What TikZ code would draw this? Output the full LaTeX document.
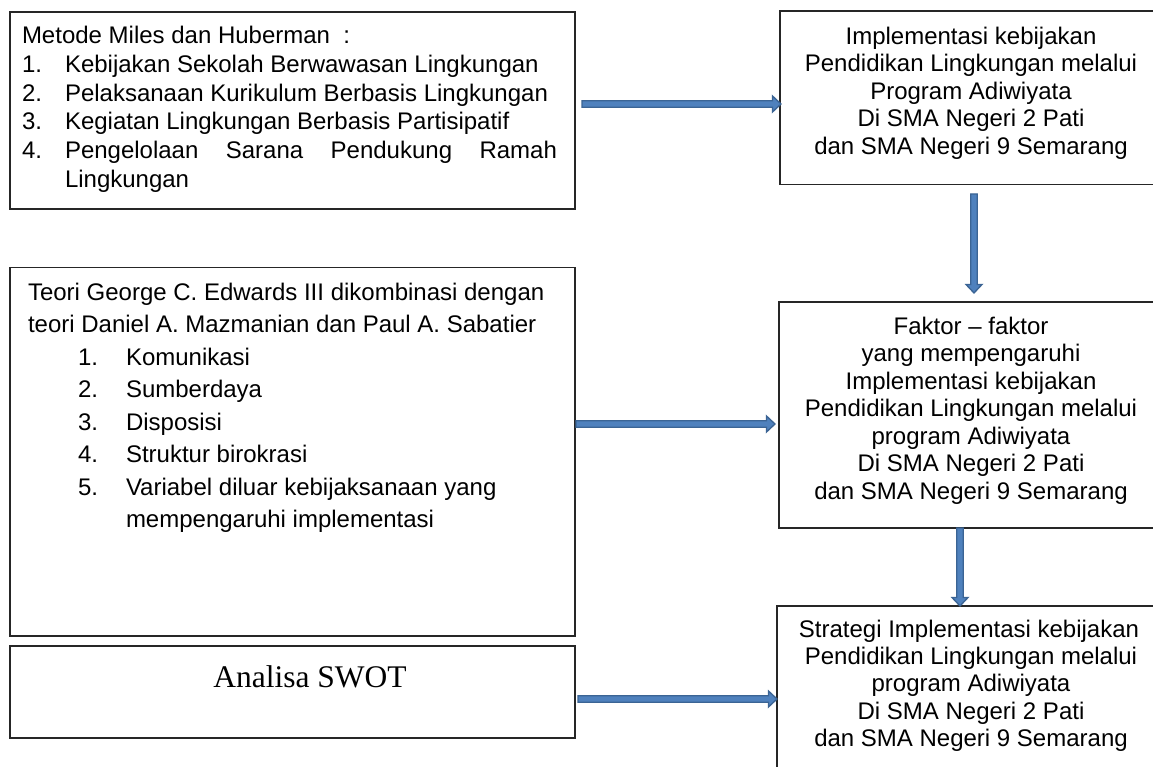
\documentclass[tikz,border=0pt]{standalone}
\usepackage{fontspec}
\setmainfont{Liberation Sans}
\newfontfamily\serifface{Liberation Serif}
\usetikzlibrary{calc}
\definecolor{arrowfill}{HTML}{4F81BD}
\definecolor{arrowline}{HTML}{3B6494}
\definecolor{boxline}{HTML}{262626}
\tikzset{
  box/.style={draw=boxline, line width=1.6pt, rectangle, anchor=north west, inner sep=0pt, outer sep=0pt},
  txt/.style={inner sep=0pt, outer sep=0pt, font=\fontsize{24}{28}\selectfont},
  blockarrow/.style={fill=arrowfill, draw=arrowline, line width=1.3pt, line join=miter}
}
\newcommand\hblockarrow[2]{\filldraw[blockarrow] ($(#1)+(0pt,3.3pt)$) -- ($(#2)+(-8.5pt,3.3pt)$) -- ($(#2)+(-8.5pt,8pt)$) -- (#2) -- ($(#2)+(-8.5pt,-8pt)$) -- ($(#2)+(-8.5pt,-3.3pt)$) -- ($(#1)+(0pt,-3.3pt)$) -- cycle;}
\newcommand\vblockarrow[2]{\filldraw[blockarrow] ($(#1)+(-3.3pt,0pt)$) -- ($(#2)+(-3.3pt,8.5pt)$) -- ($(#2)+(-8pt,8.5pt)$) -- (#2) -- ($(#2)+(8pt,8.5pt)$) -- ($(#2)+(3.3pt,8.5pt)$) -- ($(#1)+(3.3pt,0pt)$) -- cycle;}
\begin{document}
\begin{tikzpicture}[x=1pt,y=-1pt]
\fill[white] (0,0) rectangle (1153,767);
\useasboundingbox (0,0) rectangle (1153,767);
% boxes
\node[box, minimum width=565pt, minimum height=197pt] (A) at (10,12) {};
\node[box, minimum width=380pt, minimum height=173.5pt] (B) at (780,11) {};
\node[box, minimum width=565pt, minimum height=368.5pt] (C) at (10,267.5) {};
\node[box, minimum width=381pt, minimum height=226pt] (D) at (779,302) {};
\node[box, minimum width=565pt, minimum height=92pt] (E) at (10,646) {};
\node[box, minimum width=383pt, minimum height=180pt] (F) at (777,606) {};
% box A text
\node[txt, anchor=base west] (a0) at (22,44) {Metode Miles dan Huberman\ \ :};
\node[txt, anchor=base west] (a1n) at (22,72.7) {1.};
\node[txt, anchor=base west] (a1) at (65,72.7) {Kebijakan Sekolah Berwawasan Lingkungan};
\node[txt, anchor=base west] (a2n) at (22,101.4) {2.};
\node[txt, anchor=base west] (a2) at (65,101.4) {Pelaksanaan Kurikulum Berbasis Lingkungan};
\node[txt, anchor=base west] (a3n) at (22,130) {3.};
\node[txt, anchor=base west] (a3) at (65,130) {Kegiatan Lingkungan Berbasis Partisipatif};
\node[txt, anchor=base west] (a4n) at (22,158.8) {4.};
\node[txt, anchor=base west] (a4) at (65,158.8) {\makebox[492pt][s]{Pengelolaan Sarana Pendukung Ramah}};
\node[txt, anchor=base west] (a5) at (65,187.5) {Lingkungan};
% box B text
\node[txt, anchor=base] (b1) at (971,45) {Implementasi kebijakan};
\node[txt, anchor=base] (b2) at (971,72) {Pendidikan Lingkungan melalui};
\node[txt, anchor=base] (b3) at (971,99.5) {Program Adiwiyata};
\node[txt, anchor=base] (b4) at (971,127) {Di SMA Negeri 2 Pati};
\node[txt, anchor=base] (b5) at (971,154.5) {dan SMA Negeri 9 Semarang};
% box C text
\node[txt, anchor=base west] (c1) at (28,300) {Teori George C. Edwards III dikombinasi dengan};
\node[txt, anchor=base west] (c2) at (28,332.5) {teori Daniel A. Mazmanian dan Paul A. Sabatier};
\node[txt, anchor=base west] (c3n) at (78,365) {1.};
\node[txt, anchor=base west] (c3) at (126,365) {Komunikasi};
\node[txt, anchor=base west] (c4n) at (78,397.5) {2.};
\node[txt, anchor=base west] (c4) at (126,397.5) {Sumberdaya};
\node[txt, anchor=base west] (c5n) at (78,430) {3.};
\node[txt, anchor=base west] (c5) at (126,430) {Disposisi};
\node[txt, anchor=base west] (c6n) at (78,462.5) {4.};
\node[txt, anchor=base west] (c6) at (126,462.5) {Struktur birokrasi};
\node[txt, anchor=base west] (c7n) at (78,495) {5.};
\node[txt, anchor=base west] (c7) at (126,495) {Variabel diluar kebijaksanaan yang};
\node[txt, anchor=base west] (c8) at (126,527.5) {mempengaruhi implementasi};
% box D text
\node[txt, anchor=base] (d1) at (971,334) {Faktor – faktor};
\node[txt, anchor=base] (d2) at (971,361.5) {yang mempengaruhi};
\node[txt, anchor=base] (d3) at (971,389) {Implementasi kebijakan};
\node[txt, anchor=base] (d4) at (971,416.5) {Pendidikan Lingkungan melalui};
\node[txt, anchor=base] (d5) at (971,444) {program Adiwiyata};
\node[txt, anchor=base] (d6) at (971,471.5) {Di SMA Negeri 2 Pati};
\node[txt, anchor=base] (d7) at (971,499) {dan SMA Negeri 9 Semarang};
% box E text
\node[inner sep=0pt, anchor=base, font=\serifface\fontsize{31.5}{36}\selectfont] (e1) at (310,687) {Analisa SWOT};
% box F text
\node[txt, anchor=base] (f1) at (969,637) {Strategi Implementasi kebijakan};
\node[txt, anchor=base] (f2) at (971,664) {Pendidikan Lingkungan melalui};
\node[txt, anchor=base] (f3) at (971,691.5) {program Adiwiyata};
\node[txt, anchor=base] (f4) at (971,719) {Di SMA Negeri 2 Pati};
\node[txt, anchor=base] (f5) at (971,746.5) {dan SMA Negeri 9 Semarang};
% arrow end points
\coordinate (p1s) at ($(A.east |- 0,104)+(7,0)$);
\coordinate (p1e) at ($(B.west |- 0,104)+(1,0)$);
\coordinate (p2s) at ($(B.south -| 974,0)+(0,9.5)$);
\coordinate (p2e) at ($(D.north -| 974,0)+(0,-9)$);
\coordinate (p3s) at ($(C.east |- 0,424)+(1,0)$);
\coordinate (p3e) at ($(D.west |- 0,424)+(-4,0)$);
\coordinate (p4s) at (D.south -| 960,0);
\coordinate (p4e) at (F.north -| 960,0);
\coordinate (p5s) at ($(E.east |- 0,699)+(3,0)$);
\coordinate (p5e) at (F.west |- 0,699);
\hblockarrow{p1s}{p1e}
\vblockarrow{p2s}{p2e}
\hblockarrow{p3s}{p3e}
\vblockarrow{p4s}{p4e}
\hblockarrow{p5s}{p5e}
\end{tikzpicture}
\end{document}
